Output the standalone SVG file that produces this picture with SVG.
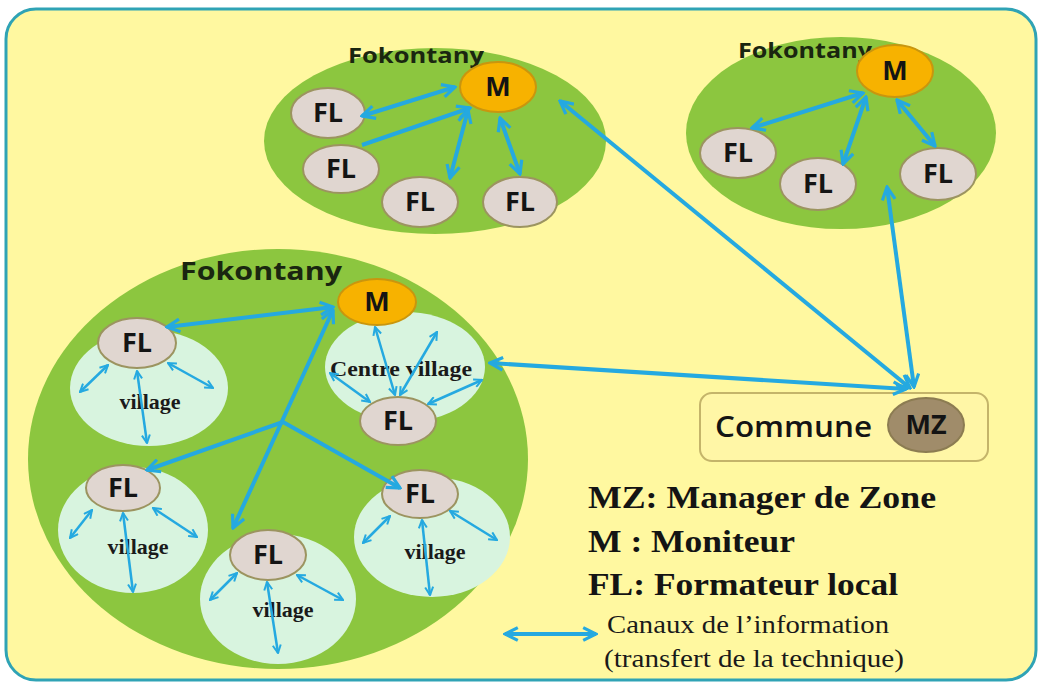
<svg xmlns="http://www.w3.org/2000/svg" width="1038" height="682" viewBox="0 0 1038 682">
<defs>
<style>
.fok{fill:#8CC63F;}
.vil{fill:#D8F4DF;}
.fl{fill:#E0D6D0;stroke:#9C9460;stroke-width:2;}
.m{fill:#F7B200;stroke:#C9960E;stroke-width:2;}
.mz{fill:#A08C6A;stroke:#8C7C52;stroke-width:2;}
.nt{font-family:"Open Sans","Liberation Sans",sans-serif;font-weight:700;font-size:27px;fill:#141414;text-anchor:middle;}
.fkt{font-family:"Open Sans","Liberation Sans",sans-serif;font-weight:700;fill:#1A2610;}
.vt{font-family:"Liberation Serif","Times New Roman",serif;font-weight:700;font-size:22px;fill:#1A1A1A;text-anchor:middle;}
.leg{font-family:"Liberation Serif","Times New Roman",serif;font-weight:700;font-size:32px;fill:#141414;}
.legr{font-family:"Liberation Serif","Times New Roman",serif;font-size:25px;fill:#1A1A1A;}
.thick{stroke:#25A9E0;stroke-width:4;fill:none;}
.thin{stroke:#25A9E0;stroke-width:2.5;fill:none;}
</style>
<marker id="ah" viewBox="0 0 10 10" refX="9" refY="5" markerWidth="4" markerHeight="4" orient="auto-start-reverse">
<path d="M1,1 L9,5 L1,9" fill="none" stroke="#25A9E0" stroke-width="2"/>
</marker>
</defs>
<rect x="6" y="9" width="1030" height="671" rx="30" ry="30" fill="#FFF8A0" stroke="#2FA3B5" stroke-width="3"/>

<g id="fokontany-top-left">
<ellipse class="fok" cx="435" cy="141" rx="171" ry="93"/>
<text class="fkt" x="348" y="63" font-size="21" textLength="136" lengthAdjust="spacingAndGlyphs">Fokontany</text>
</g>
<g id="fokontany-top-right">
<ellipse class="fok" cx="841" cy="133" rx="155" ry="96"/>
<text class="fkt" x="738" y="58" font-size="21" textLength="134" lengthAdjust="spacingAndGlyphs">Fokontany</text>
</g>
<g id="fokontany-main">
<ellipse class="fok" cx="278" cy="459" rx="250" ry="210"/>
<text class="fkt" x="180" y="280" font-size="25" textLength="162" lengthAdjust="spacingAndGlyphs">Fokontany</text>
</g>

<g id="village-1"><ellipse class="vil" cx="149" cy="388" rx="79" ry="58"/><text class="vt" x="150" y="409">village</text></g>
<g id="village-centre"><ellipse class="vil" cx="405" cy="367" rx="80" ry="55"/><text class="vt" x="401" y="376" textLength="142" lengthAdjust="spacingAndGlyphs">Centre village</text></g>
<g id="village-2"><ellipse class="vil" cx="133" cy="530" rx="75" ry="63"/><text class="vt" x="138" y="554">village</text></g>
<g id="village-3"><ellipse class="vil" cx="278" cy="599" rx="78" ry="65"/><text class="vt" x="283" y="617">village</text></g>
<g id="village-4"><ellipse class="vil" cx="432" cy="537" rx="78" ry="60"/><text class="vt" x="435" y="559">village</text></g>

<g id="commune">
<rect x="700" y="393" width="288" height="68" rx="12" ry="12" fill="#FFF6A6" stroke="#C4B46A" stroke-width="2"/>
<text x="715" y="437" font-family="'Open Sans','Liberation Sans',sans-serif" font-weight="600" font-size="28" fill="#141414" textLength="157" lengthAdjust="spacingAndGlyphs">Commune</text>
</g>

<g id="m-top-left"><ellipse class="m" cx="498" cy="87" rx="38" ry="25"/><text class="nt" x="498" y="96">M</text></g>
<g id="fl-tl-1"><ellipse class="fl" cx="328" cy="113" rx="37" ry="25"/><text class="nt" x="328" y="122">FL</text></g>
<g id="fl-tl-2"><ellipse class="fl" cx="341" cy="169" rx="38" ry="24"/><text class="nt" x="341" y="178">FL</text></g>
<g id="fl-tl-3"><ellipse class="fl" cx="420" cy="202" rx="38" ry="25"/><text class="nt" x="420" y="211">FL</text></g>
<g id="fl-tl-4"><ellipse class="fl" cx="520" cy="202" rx="37" ry="25"/><text class="nt" x="520" y="211">FL</text></g>

<g id="m-top-right"><ellipse class="m" cx="895" cy="71" rx="38" ry="26"/><text class="nt" x="895" y="80">M</text></g>
<g id="fl-tr-1"><ellipse class="fl" cx="738" cy="153" rx="38" ry="25"/><text class="nt" x="738" y="162">FL</text></g>
<g id="fl-tr-2"><ellipse class="fl" cx="818" cy="184" rx="38" ry="26"/><text class="nt" x="818" y="193">FL</text></g>
<g id="fl-tr-3"><ellipse class="fl" cx="938" cy="174" rx="38" ry="26"/><text class="nt" x="938" y="183">FL</text></g>

<g id="m-main"><ellipse class="m" cx="377" cy="302" rx="39" ry="23"/><text class="nt" x="377" y="311">M</text></g>
<g id="fl-v1"><ellipse class="fl" cx="137" cy="343" rx="39" ry="25"/><text class="nt" x="137" y="352">FL</text></g>
<g id="fl-centre"><ellipse class="fl" cx="398" cy="421" rx="38" ry="24"/><text class="nt" x="398" y="430">FL</text></g>
<g id="fl-v2"><ellipse class="fl" cx="123" cy="488" rx="37" ry="23"/><text class="nt" x="123" y="497">FL</text></g>
<g id="fl-v3"><ellipse class="fl" cx="268" cy="555" rx="38" ry="25"/><text class="nt" x="268" y="564">FL</text></g>
<g id="fl-v4"><ellipse class="fl" cx="420" cy="494" rx="38" ry="24"/><text class="nt" x="420" y="503">FL</text></g>

<g id="mz"><ellipse class="mz" cx="926" cy="425" rx="38" ry="27"/><text class="nt" x="926" y="434">MZ</text></g>

<g id="connectors">
<line class="thick" x1="455" y1="87" x2="362" y2="116" marker-start="url(#ah)" marker-end="url(#ah)"/>
<line class="thick" x1="362" y1="145" x2="470" y2="108" marker-end="url(#ah)"/>
<line class="thick" x1="468" y1="110" x2="450" y2="178" marker-start="url(#ah)" marker-end="url(#ah)"/>
<line class="thick" x1="500" y1="118" x2="520" y2="174" marker-start="url(#ah)" marker-end="url(#ah)"/>
<line class="thick" x1="863" y1="93" x2="752" y2="128" marker-start="url(#ah)" marker-end="url(#ah)"/>
<line class="thick" x1="866" y1="97" x2="843" y2="164" marker-start="url(#ah)" marker-end="url(#ah)"/>
<line class="thick" x1="897" y1="100" x2="935" y2="146" marker-start="url(#ah)" marker-end="url(#ah)"/>
<line class="thick" x1="560" y1="101" x2="910" y2="388" marker-start="url(#ah)" marker-end="url(#ah)"/>
<line class="thick" x1="887" y1="187" x2="914" y2="387" marker-start="url(#ah)" marker-end="url(#ah)"/>
<line class="thick" x1="490" y1="363" x2="906" y2="389" marker-start="url(#ah)" marker-end="url(#ah)"/>
<line class="thick" x1="333" y1="307" x2="167" y2="327" marker-start="url(#ah)" marker-end="url(#ah)"/>
<line class="thick" x1="333" y1="310" x2="233" y2="528" marker-start="url(#ah)" marker-end="url(#ah)"/>
<line class="thick" x1="283" y1="422" x2="147" y2="470" marker-end="url(#ah)"/>
<line class="thick" x1="283" y1="422" x2="400" y2="488" marker-end="url(#ah)"/>
<line class="thin" x1="108" y1="365" x2="80" y2="392" marker-start="url(#ah)" marker-end="url(#ah)"/>
<line class="thin" x1="137" y1="371" x2="147" y2="443" marker-start="url(#ah)" marker-end="url(#ah)"/>
<line class="thin" x1="168" y1="363" x2="213" y2="388" marker-start="url(#ah)" marker-end="url(#ah)"/>
<line class="thin" x1="375" y1="327" x2="395" y2="395" marker-start="url(#ah)" marker-end="url(#ah)"/>
<line class="thin" x1="437" y1="332" x2="400" y2="395" marker-start="url(#ah)" marker-end="url(#ah)"/>
<line class="thin" x1="330" y1="373" x2="370" y2="402" marker-start="url(#ah)" marker-end="url(#ah)"/>
<line class="thin" x1="482" y1="380" x2="428" y2="404" marker-start="url(#ah)" marker-end="url(#ah)"/>
<line class="thin" x1="92" y1="510" x2="70" y2="538" marker-start="url(#ah)" marker-end="url(#ah)"/>
<line class="thin" x1="123" y1="513" x2="133" y2="592" marker-start="url(#ah)" marker-end="url(#ah)"/>
<line class="thin" x1="153" y1="508" x2="197" y2="537" marker-start="url(#ah)" marker-end="url(#ah)"/>
<line class="thin" x1="237" y1="573" x2="210" y2="600" marker-start="url(#ah)" marker-end="url(#ah)"/>
<line class="thin" x1="267" y1="582" x2="278" y2="653" marker-start="url(#ah)" marker-end="url(#ah)"/>
<line class="thin" x1="297" y1="575" x2="343" y2="600" marker-start="url(#ah)" marker-end="url(#ah)"/>
<line class="thin" x1="390" y1="516" x2="363" y2="543" marker-start="url(#ah)" marker-end="url(#ah)"/>
<line class="thin" x1="422" y1="520" x2="430" y2="595" marker-start="url(#ah)" marker-end="url(#ah)"/>
<line class="thin" x1="450" y1="511" x2="497" y2="540" marker-start="url(#ah)" marker-end="url(#ah)"/>
<line class="thick" x1="505" y1="634" x2="596" y2="634" marker-start="url(#ah)" marker-end="url(#ah)"/>
</g>

<g id="legend">
<text class="leg" x="588" y="508" textLength="348" lengthAdjust="spacingAndGlyphs">MZ: Manager de Zone</text>
<text class="leg" x="588" y="552" textLength="207" lengthAdjust="spacingAndGlyphs">M : Moniteur</text>
<text class="leg" x="588" y="595" textLength="310" lengthAdjust="spacingAndGlyphs">FL: Formateur local</text>
<text class="legr" x="607" y="633" textLength="282" lengthAdjust="spacingAndGlyphs">Canaux de l’information</text>
<text class="legr" x="604" y="667" textLength="300" lengthAdjust="spacingAndGlyphs">(transfert de la technique)</text>
</g>
</svg>
